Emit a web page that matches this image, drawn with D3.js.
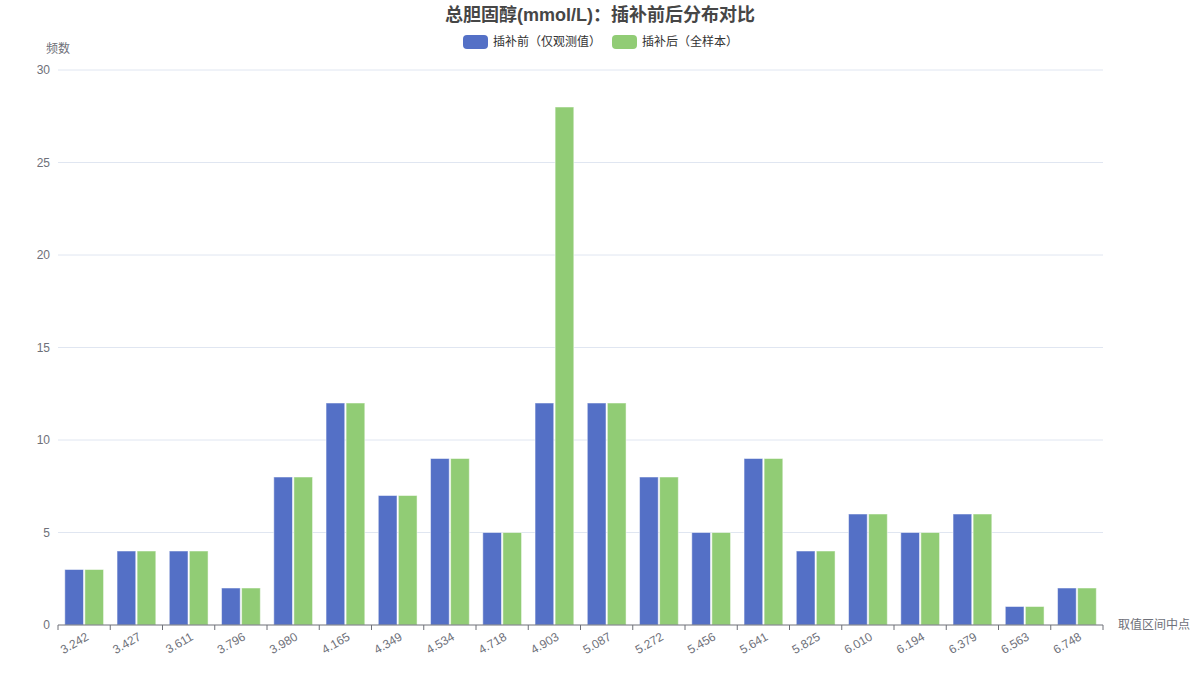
<!DOCTYPE html>
<html>
<head>
<meta charset="utf-8">
<script src="https://cdn.jsdelivr.net/npm/d3@7"></script>
<style>
  body { margin: 0; background: #fff; }
  svg { font-family: "Liberation Sans", "Noto Sans CJK SC", sans-serif; }
</style>
</head>
<body>
<svg id="chart" width="1200" height="680"></svg>
<script>
var categories = ["3.242","3.427","3.611","3.796","3.980","4.165","4.349","4.534","4.718","4.903",
                  "5.087","5.272","5.456","5.641","5.825","6.010","6.194","6.379","6.563","6.748"]
var beforeVals = [3,4,4,2,8,12,7,9,5,12,12,8,5,9,4,6,5,6,1,2]
var afterVals  = [3,4,4,2,8,12,7,9,5,28,12,8,5,9,4,6,5,6,1,2]
var yTicks = [0,5,10,15,20,25,30]
var seriesNames = ["插补前（仅观测值）","插补后（全样本）"]
var colors = ["#5470c6","#91cc75"]

var margins = {top:70, right:97, bottom:55, left:58}
var width = 1200 - margins.left - margins.right
var height = 680 - margins.top - margins.bottom

var svg = d3.select("#chart")

var xScale = d3.scaleBand()
    .domain(categories)
    .range([0,width])
var yScale = d3.scaleLinear()
    .domain([0,30])
    .range([height,0])

// two bars inside each category band
var bw = xScale.bandwidth()
var barW = bw * 0.358
var barOff = [bw * 0.13, bw * 0.13 + barW + bw * 0.026]

var g = svg.append("g")
    .attr("transform","translate("+margins.left+","+margins.top+")")

// grid
g.selectAll("line.grid")
    .data(yTicks.slice(1))
    .enter()
    .append("line")
    .attr("x1",0).attr("x2",width)
    .attr("y1",function(d){return yScale(d)})
    .attr("y2",function(d){return yScale(d)})
    .attr("stroke","#e0e6f1")

// y labels
g.selectAll("text.ylab")
    .data(yTicks)
    .enter()
    .append("text")
    .attr("x",-8)
    .attr("y",function(d){return yScale(d)})
    .attr("dy","0.35em")
    .attr("text-anchor","end")
    .attr("font-size","12px")
    .attr("fill","#6e7079")
    .text(function(d){return d})

// bars
var series = [beforeVals, afterVals]
series.forEach(function(vals, s){
    g.append("g").selectAll("rect")
        .data(vals)
        .enter()
        .append("rect")
        .attr("x",function(d,i){return xScale(categories[i]) + barOff[s]})
        .attr("width",barW)
        .attr("y",function(d){return yScale(d)})
        .attr("height",function(d){return height - yScale(d)})
        .attr("fill",colors[s])
        .attr("stroke","rgba(255,255,255,0.5)")
        .attr("stroke-width",1)
})

// x axis
var xg = g.append("g")
    .attr("transform","translate(0,"+height+")")
xg.append("line")
    .attr("x1",0).attr("x2",width)
    .attr("stroke","#6e7079")
// ticks at band edges
var edges = categories.map(function(c){return xScale(c)}).concat([width])
xg.selectAll("line.edge")
    .data(edges)
    .enter()
    .append("line")
    .attr("x1",function(d){return d}).attr("x2",function(d){return d})
    .attr("y1",0).attr("y2",5)
    .attr("stroke","#6e7079")

xg.selectAll("text.xlab")
    .data(categories)
    .enter()
    .append("text")
    .attr("transform",function(d){
        return "translate("+(xScale(d)+bw/2+3)+",10) rotate(-30)"
    })
    .attr("text-anchor","end")
    .attr("dy","0.4em")
    .attr("font-size","12px")
    .attr("fill","#6e7079")
    .text(function(d){return d})

// axis names
svg.append("text")
    .attr("x",1118).attr("y",margins.top+height)
    .attr("dy","0.35em")
    .attr("font-size","12px")
    .attr("fill","#6e7079")
    .text("取值区间中点")
svg.append("text")
    .attr("x",58).attr("y",49)
    .attr("dy","0.35em")
    .attr("text-anchor","middle")
    .attr("font-size","12px")
    .attr("fill","#6e7079")
    .text("频数")

// title
svg.append("text")
    .attr("x",600).attr("y",15)
    .attr("dy","0.35em")
    .attr("text-anchor","middle")
    .attr("font-size","18px")
    .attr("font-weight","bold")
    .attr("fill","#464646")
    .text("总胆固醇(mmol/L)：插补前后分布对比")

// legend
var legendX = [463, 612]
seriesNames.forEach(function(name, i){
    svg.append("rect")
        .attr("x",legendX[i]).attr("y",35)
        .attr("width",25).attr("height",14)
        .attr("rx",4)
        .attr("fill",colors[i])
    svg.append("text")
        .attr("x",legendX[i]+30).attr("y",42)
        .attr("dy","0.35em")
        .attr("font-size","12px")
        .attr("fill","#333")
        .text(name)
})
</script>
</body>
</html>
